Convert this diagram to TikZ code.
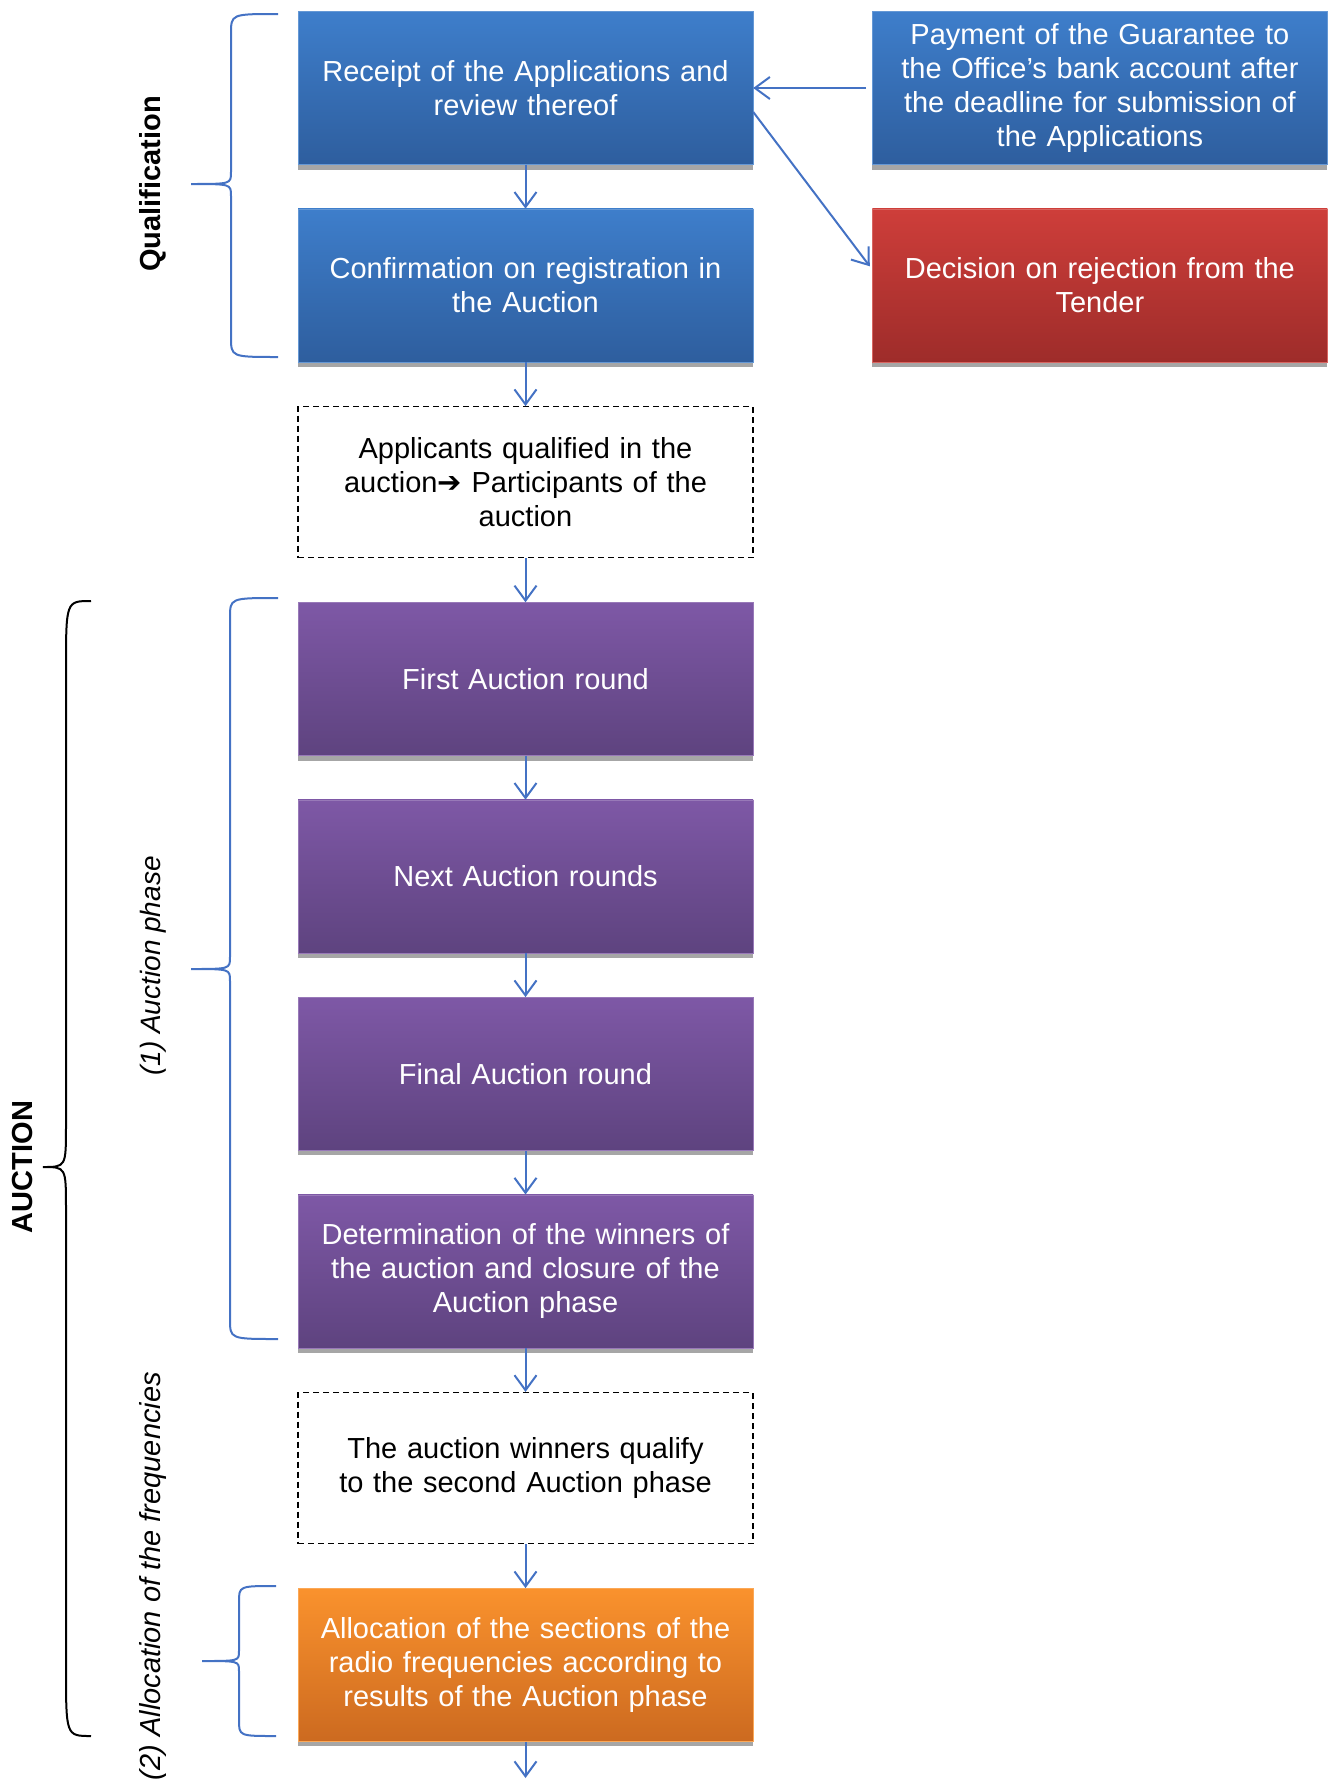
\documentclass[tikz,border=0pt]{standalone}
\usepackage{fontspec}
\setmainfont{Liberation Sans}
\newfontfamily\dejavu{DejaVu Sans}
\usetikzlibrary{shapes.geometric, arrows.meta, positioning, shadows}
\definecolor{blueTop}{RGB}{62,126,203}
\definecolor{blueBottom}{RGB}{46,94,158}
\definecolor{redTop}{RGB}{206,62,58}
\definecolor{redBottom}{RGB}{158,44,42}
\definecolor{purpleTop}{RGB}{126,88,166}
\definecolor{purpleBottom}{RGB}{94,67,127}
\definecolor{orangeTop}{RGB}{250,146,45}
\definecolor{orangeBottom}{RGB}{204,106,32}
\definecolor{linkblue}{RGB}{68,114,196}
\tikzstyle{stage} = [rectangle, minimum width=455pt, minimum height=153pt, inner sep=4pt, text width=445pt, align=center, text=white, font=\fontsize{29}{34}\selectfont, drop shadow={shadow xshift=0pt, shadow yshift=-5pt, fill=black!35, opacity=1}]
\tikzstyle{bluestage} = [stage, top color=blueTop, bottom color=blueBottom, draw=blueTop!80!white]
\tikzstyle{redstage} = [stage, top color=redTop, bottom color=redBottom, draw=redTop!80!white]
\tikzstyle{purplestage} = [stage, top color=purpleTop, bottom color=purpleBottom, draw=purpleTop!80!white]
\tikzstyle{orangestage} = [stage, top color=orangeTop, bottom color=orangeBottom, draw=orangeTop!80!white]
\tikzstyle{note} = [rectangle, draw=black, dash pattern=on 6pt off 4pt, line width=1.2pt, minimum width=455pt, minimum height=151pt, inner sep=4pt, text width=445pt, align=center, font=\fontsize{29}{34}\selectfont]
\tikzstyle{arrow} = [draw=linkblue, line width=2pt, -{Straight Barb[length=15pt,width=22pt]}]
\tikzstyle{bracket} = [draw=linkblue, line width=2pt]
\tikzstyle{phase} = [rotate=90, inner sep=0pt]

\begin{document}
\begin{tikzpicture}[x=1pt, y=-1pt, node distance=44pt]
\useasboundingbox (0,0) rectangle (1330,1780);

% Qualification
\node (receipt) [bluestage] at (525.5,88) {Receipt of the Applications and\\ review thereof};
\node (confirm) [bluestage, below=of receipt] {Confirmation on registration in\\ the Auction};
\node (payment) [bluestage, right=119pt of receipt] {Payment of the Guarantee to\\ the Office’s bank account after\\ the deadline for submission of\\ the Applications};
\node (rejection) [redstage, below=of payment] {Decision on rejection from the\\ Tender};
\node (qualified) [note, below=of confirm] {Applicants qualified in the\\ auction{\dejavu ➔} Participants of the\\ auction};

% Auction phase
\node (firstround) [purplestage, below=of qualified] {First Auction round};
\node (nextrounds) [purplestage, below=of firstround] {Next Auction rounds};
\node (finalround) [purplestage, below=of nextrounds] {Final Auction round};
\node (winners) [purplestage, below=of finalround] {Determination of the winners of\\ the auction and closure of the\\ Auction phase};
\node (secondphase) [note, below=of winners] {The auction winners qualify\\ to the second Auction phase};
\node (allocation) [orangestage, below=of secondphase] {Allocation of the sections of the\\ radio frequencies according to\\ results of the Auction phase};
\coordinate (pageend) at (525.5,1778);

% Flow
\draw [arrow] (receipt) -- (confirm);
\draw [arrow] (confirm) -- (qualified);
\draw [arrow] (qualified) -- (firstround);
\draw [arrow] (firstround) -- (nextrounds);
\draw [arrow] (nextrounds) -- (finalround);
\draw [arrow] (finalround) -- (winners);
\draw [arrow] (winners) -- (secondphase);
\draw [arrow] (secondphase) -- (allocation);
\draw [arrow] (allocation) -- (pageend);
\draw [arrow, shorten <=6pt] (payment) -- (receipt);
\draw [arrow, shorten >=4pt] (receipt.-6) -- (rejection.176);

% Braces
\draw [bracket] (278,14) .. controls (231,14) .. (231,34) -- (231,172) .. controls (231,184) .. (191,184) .. controls (231,184) .. (231,196) -- (231,337) .. controls (231,357) .. (278,357);
\draw [bracket] (278,598) .. controls (230,598) .. (230,618) -- (230,957) .. controls (230,969) .. (191,969) .. controls (230,969) .. (230,981) -- (230,1319) .. controls (230,1339) .. (278,1339);
\draw [bracket] (276,1586) .. controls (239,1586) .. (239,1602) -- (239,1651) .. controls (239,1661) .. (202,1661) .. controls (239,1661) .. (239,1671) -- (239,1720) .. controls (239,1736) .. (276,1736);
\draw [line width=2pt] (91,601) .. controls (66,601) .. (66,670) -- (66,1125) .. controls (66,1167) .. (43,1167) .. controls (66,1167) .. (66,1209) -- (66,1667) .. controls (66,1736) .. (91,1736);

% Brace labels
\node (qualabel) [phase, font=\fontsize{29}{34}\selectfont\bfseries] at (153,184) {Qualification};
\node (phaseone) [phase, font=\fontsize{28}{34}\selectfont\itshape] at (153,966) {(1) Auction phase};
\node (auctionlabel) [phase, font=\fontsize{29}{34}\selectfont\bfseries] at (23,1167) {AUCTION};
\node (phasetwo) [phase, anchor=east, font=\fontsize{29}{34}\selectfont\itshape] at (153,1372) {(2) Allocation of the frequencies};

\end{tikzpicture}
\end{document}
